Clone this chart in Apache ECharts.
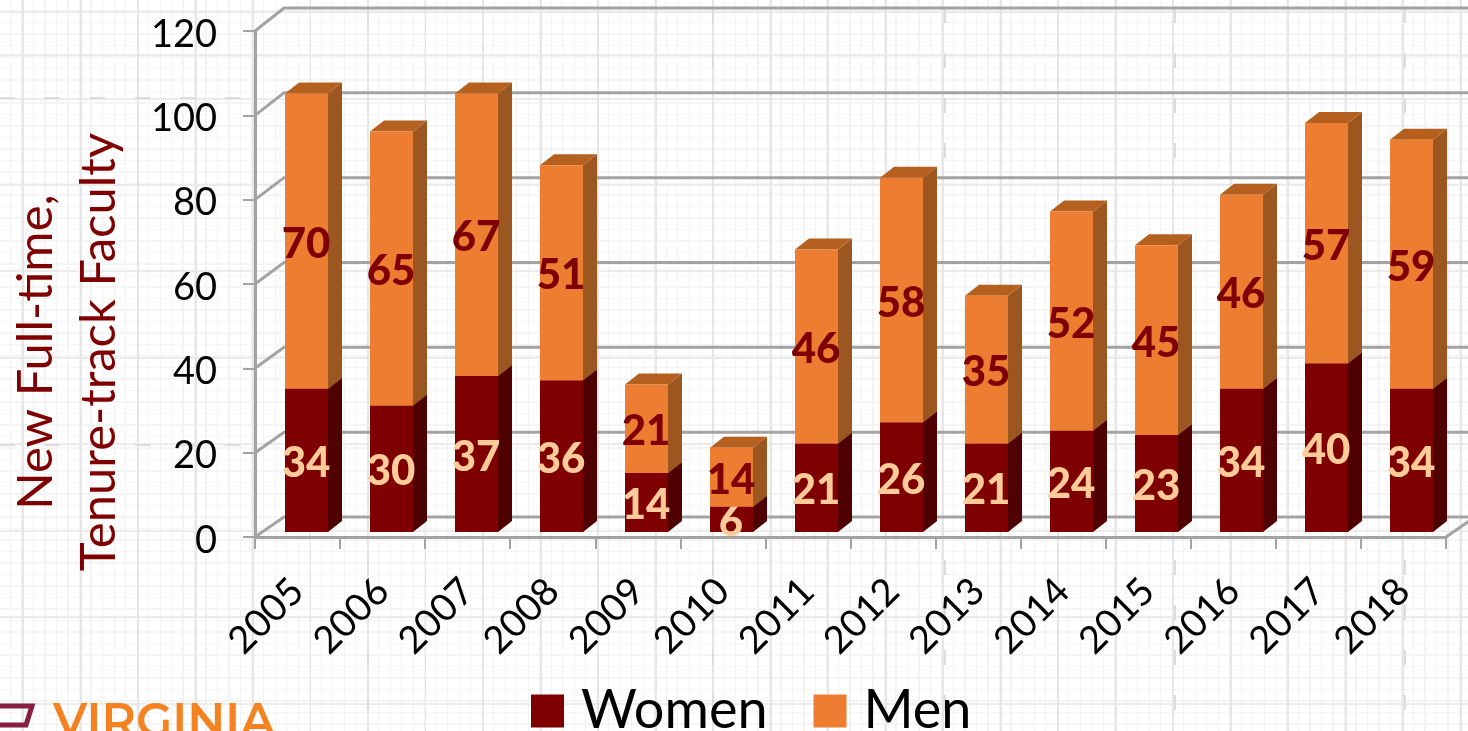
<!DOCTYPE html>
<html><head><meta charset="utf-8">
<script src="https://cdn.jsdelivr.net/npm/echarts@6/dist/echarts.min.js"></script>
<style>
html,body{margin:0;padding:0;width:1468px;height:731px;overflow:hidden;background-color:#fff;
background-image:
 repeating-linear-gradient(to right,transparent 0 22px,#e6e6e6 22px 24px,transparent 24px 57.5px),
 linear-gradient(to bottom,transparent 54px,#ebebeb 54px 56px,transparent 56px),
 repeating-linear-gradient(to bottom,transparent 0 11px,#ebebeb 11px 13px,transparent 13px 86.5px),
 repeating-linear-gradient(to right,transparent 0 10px,#f3f3f3 10px 11.5px),
 repeating-linear-gradient(to bottom,transparent 0 10px,#f5f5f5 10px 11.5px);}
#c{width:1468px;height:731px}
</style></head><body><div id="c"></div>
<script>
const years=['2005','2006','2007','2008','2009','2010','2011','2012','2013','2014','2015','2016','2017','2018'];
const women=[34,30,37,36,14,6,21,26,21,24,23,34,40,34];
const men=[70,65,67,51,21,14,46,58,35,52,45,46,57,59];
const yTicks=[0,20,40,60,80,100,120];
const FONT='Lato';
const chart=echarts.init(document.getElementById('c'),null,{renderer:'canvas'});
const womenData=years.map((y,i)=>[i,0,women[i]]);
const menData=years.map((y,i)=>[i,women[i],women[i]+men[i]]);
function barRenderer(front,side,top,labelColor){
  return function(params,api){
    const c=api.coord([api.value(0),api.value(1)]);
    const e=api.coord([api.value(0),api.value(2)]);
    const w=43,dx=14,dy=11,lift=5,off=8.5;
    const xl=Math.round(c[0]+off-w/2),xr=xl+w;
    const yb=c[1]-lift,yt=e[1]-lift;
    return {type:'group',children:[
      {type:'polygon',shape:{points:[[xr,yt],[xr+dx,yt-dy],[xr+dx,yb-dy],[xr,yb]]},style:{fill:side}},
      {type:'polygon',shape:{points:[[xl,yt],[xl+dx,yt-dy],[xr+dx,yt-dy],[xr,yt]]},style:{fill:top}},
      {type:'rect',shape:{x:xl,y:yt,width:w,height:yb-yt},style:{fill:front}},
      {type:'text',z2:100,style:{x:(xl+xr)/2-0.5,y:(yt+yb)/2+3,text:String(api.value(2)-api.value(1)),
        fill:labelColor,font:'900 42px '+FONT,textAlign:'center',textVerticalAlign:'middle'}}
    ]};
  };
}
function wallRenderer(params,api){
  const v=api.value(0);
  const y=api.coord([0,v])[1];
  const g=params.coordSys, x0=g.x, x1=g.x+g.width;
  const dx=29, dy=20+3*v/120;
  const line={stroke:'#a3a3a3',lineWidth:3,fill:'none'};
  const kids=[{type:'polyline',shape:{points:[[x0,y],[x0+dx,y-dy],[x1+dx,y-dy]]},style:line}];
  if(v===0) kids.push({type:'line',shape:{x1:x1,y1:y,x2:x1+dx,y2:y-dy},style:line});
  return {type:'group',children:kids};
}
const dash=(x1,y1,x2,y2)=>({type:'line',shape:{x1,y1,x2,y2},z:-10,style:{stroke:'#dcdcdc',lineWidth:2,lineDash:[15,30]}});
chart.setOption({
  animation:false,
  backgroundColor:'transparent',
  grid:{left:255,top:31,width:1191,height:506,containLabel:false,outerBoundsMode:'none'},
  legend:{data:['Women','Men'],left:526,top:679,icon:'rect',itemWidth:33,itemHeight:33,itemGap:46,
    textStyle:{fontFamily:FONT,fontSize:54,color:'#000',padding:[0,0,0,12]}},
  xAxis:{type:'category',data:years,
    axisLine:{lineStyle:{color:'#a3a3a3',width:3}},
    axisTick:{show:true,length:12,lineStyle:{color:'#a3a3a3',width:2},alignWithLabel:false},
    axisLabel:{rotate:45,interval:0,margin:48,fontFamily:FONT,fontSize:38,color:'#000'}},
  yAxis:{type:'value',min:0,max:120,interval:20,
    name:'New Full-time,\nTenure-track Faculty',nameLocation:'middle',nameRotate:90,nameGap:124,
    nameTextStyle:{fontFamily:FONT,fontSize:49,color:'#7f0000',lineHeight:63,padding:[0,136,0,0],align:'center'},
    axisLine:{show:true,lineStyle:{color:'#a3a3a3',width:3}},
    axisTick:{show:true,length:12,lineStyle:{color:'#a3a3a3',width:2}},
    splitLine:{show:false},
    axisLabel:{margin:38,formatter:v=>'{n|'+v+'}',
      rich:{n:{fontFamily:FONT,fontSize:38,color:'#000',padding:[7,0,0,0]}}}},
  series:[
    {type:'custom',name:'wall',data:yTicks.map(v=>[v]),encode:{y:0},clip:false,z:1,renderItem:wallRenderer,silent:true},
    {type:'custom',name:'Women',data:womenData,encode:{x:0,y:[1,2]},clip:false,z:2,itemStyle:{color:'#7f0000'},
      renderItem:barRenderer('#7f0000','#4f0000','#5f0000','#ffcc99')},
    {type:'custom',name:'Men',data:menData,encode:{x:0,y:[1,2]},clip:false,z:3,itemStyle:{color:'#ed7d31'},
      renderItem:barRenderer('#ed7d31','#9c561f','#b5601f','#7f0000')}
  ],
  graphic:[
    dash(0,98,250,98),dash(0,445,250,445),
    dash(368,8,368,30),dash(368,560,368,731),dash(713,560,713,731),dash(713,8,713,80),
    dash(945,8,945,180),dash(945,560,945,731),dash(1175,8,1175,180),dash(1175,560,1175,731),
    dash(1405,8,1405,130),dash(1405,560,1405,731),
    {type:'polygon',shape:{points:[[-4,706],[32,706],[26,725],[-4,725]]},style:{fill:'none',stroke:'#861f41',lineWidth:5}},
    {type:'text',style:{x:53,y:700,text:'VIRGINIA',fill:'#f58220',font:'600 47px Montserrat,Inter,sans-serif'}}
  ]
});
</script></body></html>
